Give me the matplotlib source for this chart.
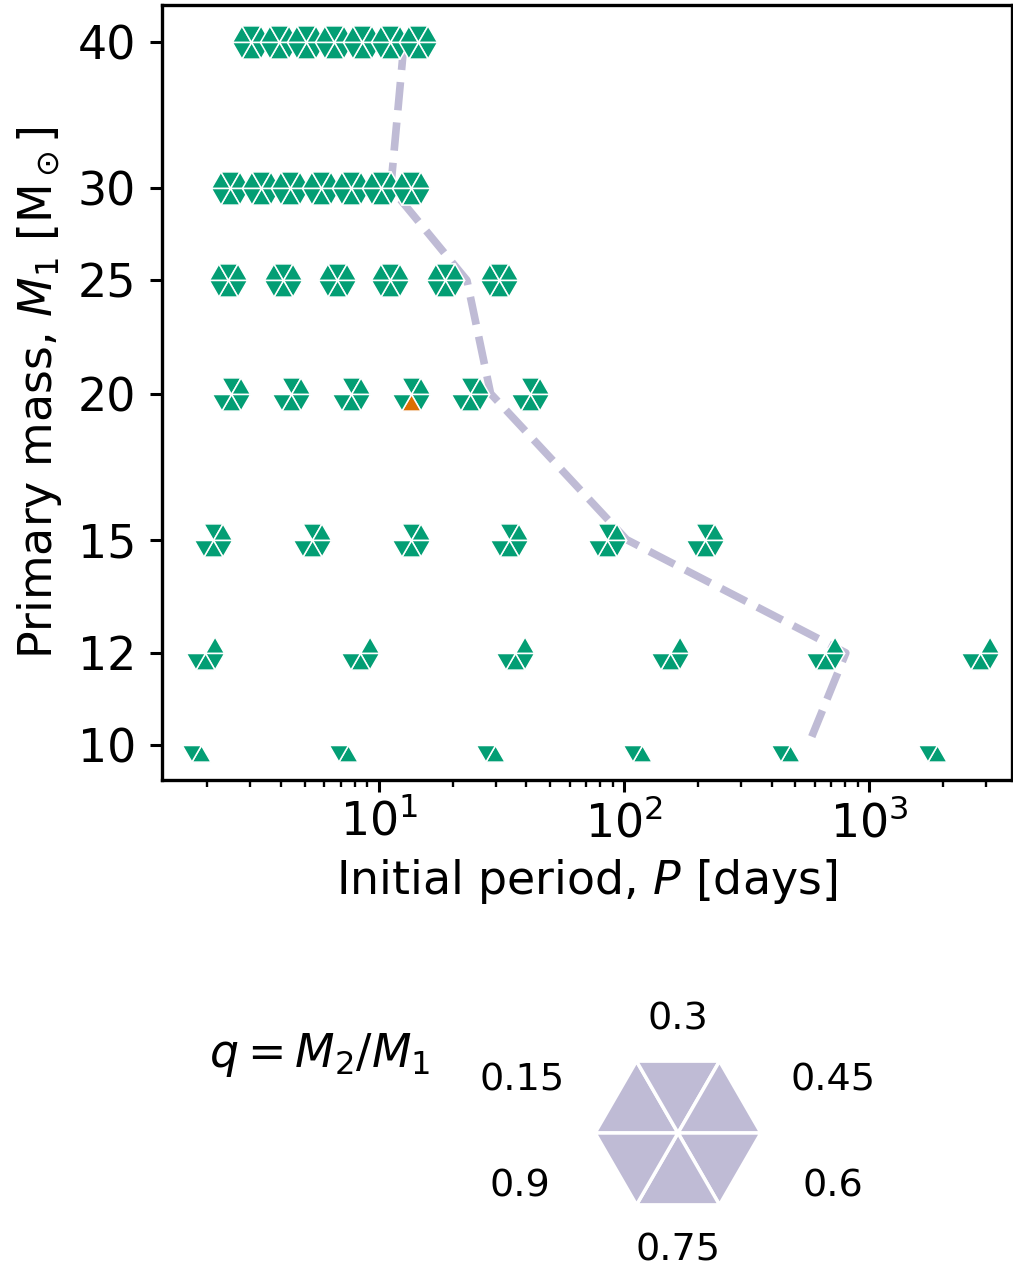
import numpy as np
import matplotlib
matplotlib.use('Agg')
import matplotlib.pyplot as plt
from matplotlib.path import Path
from matplotlib.patches import Polygon
from matplotlib.ticker import NullLocator

# ── Model grid ────────────────────────────────────────────────────────────────
# Initial periods (days) run for each primary mass
P_40 = [3.01, 3.91, 5.07, 6.58, 8.55, 11.1, 14.4]
P_30 = [2.48, 3.30, 4.37, 5.80, 7.69, 10.2, 13.5]
P_25 = [2.43, 4.06, 6.76, 11.1, 18.7, 31.0]
P_20 = [2.50, 4.39, 7.69, 13.5, 23.6, 41.5]
P_15 = [2.12, 5.35, 13.5, 34.0, 85.5, 215.0]
P_12 = [1.96, 8.39, 36.0, 154.0, 661.0, 2833.0]
P_10 = [1.88, 7.50, 29.9, 119.0, 476.0, 1893.0]

# Mass ratios q = M2/M1 available at each primary mass
Q_ALL = [0.15, 0.3, 0.45, 0.6, 0.75, 0.9]
Q_40 = Q_ALL
Q_30 = Q_ALL
Q_25 = Q_ALL
Q_20 = [0.3, 0.45, 0.6, 0.75, 0.9]
Q_15 = [0.3, 0.45, 0.6, 0.75, 0.9]
Q_12 = [0.45, 0.6, 0.75, 0.9]
Q_10 = [0.75, 0.9]

MASSES = [40, 30, 25, 20, 15, 12, 10]
PERIODS = [P_40, P_30, P_25, P_20, P_15, P_12, P_10]
QS = [Q_40, Q_30, Q_25, Q_20, Q_15, Q_12, Q_10]

# (mass, period index, q) of models with the other outcome
FLAGGED = [(20, 3, 0.75)]

# Boundary curve through the grid
LINE_P = [12.7, 11.2, 22.9, 28.6, 102.5, 803.0, 564.0]
LINE_M = [40, 30, 25, 20, 15, 12, 10]

GREEN = '#039e74'
ORANGE = '#dc6e02'
LILAC = '#bfbbd5'

# Each q owns one wedge of the hexagon; value = angle (deg) of its first corner
WEDGE_START = {0.45: 0, 0.3: 60, 0.15: 120, 0.9: 180, 0.75: 240, 0.6: 300}


def wedge_verts(q, r=1.0):
    a0 = np.deg2rad(WEDGE_START[q])
    a1 = a0 + np.deg2rad(60)
    return np.array([[0, 0],
                     [r * np.cos(a0), r * np.sin(a0)],
                     [r * np.cos(a1), r * np.sin(a1)],
                     [0, 0]])


def wedge_marker(q, radius_pt):
    # matplotlib rescales custom markers by their largest |coordinate|,
    # so compensate in the size to keep all six wedges the same scale
    verts = wedge_verts(q)
    path = Path(verts, closed=True)
    rescale = np.abs(verts).max()
    return path, (2 * radius_pt * rescale) ** 2


plt.rcParams['font.size'] = 33
plt.rcParams['mathtext.fontset'] = 'dejavusans'

fig = plt.figure(figsize=(10.13, 12.69), dpi=100)
ax = fig.add_axes([0.1596, 0.3853, 0.8394, 0.6104])

ax.plot(LINE_P, LINE_M, ls='--', color=LILAC, lw=5.5, zorder=2)

HEX_R = 13.8  # points
for m, periods, qs in zip(MASSES, PERIODS, QS):
    for i, p in enumerate(periods):
        for q in qs:
            path, s = wedge_marker(q, HEX_R)
            col = ORANGE if (m, i, q) in FLAGGED else GREEN
            ax.scatter([p], [m], marker=path, s=s, color=col,
                       edgecolors='white', linewidths=1.1, zorder=3)

ax.set_xscale('log')
ax.set_yscale('log')
ax.set_xlim(1.304, 3820)
ax.set_ylim(9.34, 42.97)
ax.set_yticks(MASSES)
ax.set_yticklabels([str(m) for m in MASSES])
ax.yaxis.set_minor_locator(NullLocator())

for sp in ax.spines.values():
    sp.set_linewidth(2.4)
ax.tick_params(which='major', length=8.5, width=2.2)
ax.tick_params(which='minor', length=5, width=1.7)
ax.tick_params(axis='y', pad=10)
ax.tick_params(axis='x', pad=6)

ax.set_xlabel(r'Initial period, $P$ [days]', labelpad=8)
ax.set_ylabel(r'Primary mass, $M_1$ [M$_\odot$]', labelpad=10)

# ── Key: which wedge is which mass ratio ─────────────────────────────────────
key = fig.add_axes([460 / 1013, 0, 440 / 1013, 274 / 1269])
key.set_xlim(-2.627, 2.675)
key.set_ylim(-1.639, 1.663)
key.axis('off')
for q in Q_ALL:
    key.add_patch(Polygon(wedge_verts(q)[:3], closed=True, facecolor=LILAC,
                          edgecolor='white', lw=2.5))

KEY_LABEL_POS = {0.3: (0, 1.37), 0.45: (1.87, 0.63), 0.6: (1.87, -0.65),
                 0.75: (0, -1.42), 0.9: (-1.90, -0.65), 0.15: (-1.88, 0.63)}
for q in Q_ALL:
    x, y = KEY_LABEL_POS[q]
    key.text(x, y, str(q), fontsize=27.5, ha='center', va='center')

fig.text(0.316, 1 - 1055 / 1269, r'$q = M_2/M_1$', fontsize=33,
         ha='center', va='center')

fig.savefig('out.png', dpi=100)
